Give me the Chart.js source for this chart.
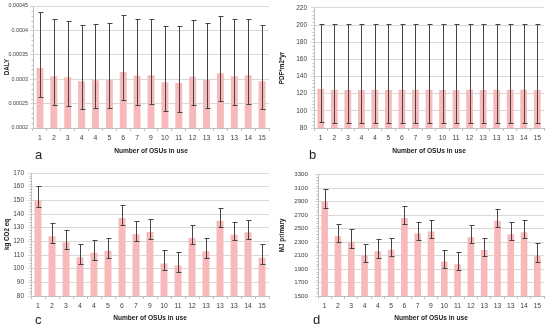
<!DOCTYPE html>
<html><head><meta charset="utf-8">
<script src="https://cdn.jsdelivr.net/npm/chart.js@4/dist/chart.umd.min.js"></script>
<style>
html,body{margin:0;padding:0;background:#fff;width:550px;height:328px;overflow:hidden;font-family:"Liberation Sans",Arial,sans-serif}
canvas{position:absolute}
.lab{position:absolute;font-size:13px;color:#222;font-family:"Liberation Sans",Arial,sans-serif}
</style></head>
<body>
<canvas id="ca" width="275" height="164" style="left:0;top:0"></canvas>
<canvas id="cb" width="275" height="164" style="left:275px;top:0"></canvas>
<canvas id="cc" width="275" height="164" style="left:0;top:164px"></canvas>
<canvas id="cd" width="275" height="164" style="left:275px;top:164px"></canvas>
<div class="lab" style="left:35px;top:147px">a</div>
<div class="lab" style="left:309px;top:147px">b</div>
<div class="lab" style="left:35px;top:312px">c</div>
<div class="lab" style="left:313px;top:312px">d</div>
<script>
const categories = ["1","2","3","4","4","5","6","7","9","10","11","12","13","13","13","14","15"];

const dalyMean = [0.000323,0.000306,0.000304,0.000296,0.000298,0.000299,0.000315,0.000307,0.000308,0.000294,0.000292,0.000305,0.000299,0.000312,0.000306,0.000308,0.000296];
const dalyHi   = [0.000438,0.000423,0.000419,0.000412,0.000414,0.000416,0.000431,0.000423,0.000423,0.000410,0.000408,0.000421,0.000415,0.000429,0.000423,0.000423,0.000412];
const dalyLo   = [0.000264,0.000247,0.000245,0.000238,0.000240,0.000241,0.000257,0.000248,0.000249,0.000234,0.000233,0.000247,0.000240,0.000255,0.000248,0.000249,0.000238];

const pdfMean = [125.5,124.6,124.4,124.3,124.5,124.4,124.7,124.7,124.6,124.3,124.3,124.6,124.3,124.6,124.6,124.7,124.3];
const pdfHi   = [201.5,201.2,201.0,201.0,201.0,201.0,201.3,201.3,201.3,201.0,201.0,201.3,201.0,201.3,201.3,201.3,201.0];
const pdfLo   = [86.5,85.6,85.5,85.4,85.5,85.5,86.0,85.7,85.6,85.4,85.4,85.7,85.4,86.0,85.7,85.7,85.4];

const co2Mean = [150.0,123.7,119.3,108.3,111.7,113.2,137.1,125.1,126.8,103.7,102.4,122.4,112.7,135.1,124.9,126.6,108.0];
const co2Hi   = [160.2,133.2,128.5,117.8,121.2,122.7,146.8,134.6,136.6,113.4,112.0,132.2,122.2,144.6,134.4,135.9,117.8];
const co2Lo   = [145.4,118.8,114.4,103.4,106.6,108.0,132.2,120.5,122.0,99.0,97.8,117.8,108.0,130.2,121.2,121.7,103.4];

const mjMean = [2905,2388,2305,2100,2163,2188,2656,2427,2456,2012,1973,2373,2183,2617,2417,2446,2100];
const mjHi   = [3085,2573,2490,2276,2339,2368,2837,2602,2632,2188,2159,2554,2359,2793,2598,2622,2280];
const mjLo   = [2812,2295,2217,2007,2066,2090,2563,2334,2368,1920,1885,2280,2090,2524,2324,2354,2002];

const yTicksA = {min:0.0002, max:0.00045, step:0.00005};
const yTicksB = {min:80, max:220, step:20};
const yTicksC = {min:80, max:170, step:10};
const yTicksD = {min:1500, max:3300, step:200};

const errorBars = {
  id:'errorBars',
  afterDatasetsDraw(chart, args, opts){
    const ctx = chart.ctx, ys = chart.scales.y;
    const meta = chart.getDatasetMeta(0);
    ctx.save();
    ctx.strokeStyle = '#444';
    ctx.lineWidth = 1;
    meta.data.forEach((bar,i)=>{
      const x = Math.round(bar.x)+0.5;
      const yh = Math.round(ys.getPixelForValue(opts.hi[i]))+0.5;
      const yl = Math.round(ys.getPixelForValue(opts.lo[i]))+0.5;
      ctx.beginPath();
      ctx.moveTo(x,yh); ctx.lineTo(x,yl);
      ctx.moveTo(x-2,yh); ctx.lineTo(x+3,yh);
      ctx.moveTo(x-2,yl); ctx.lineTo(x+3,yl);
      ctx.stroke();
    });
    ctx.restore();
  }
};
const minorTicks = {
  id:'minorTicks',
  afterDraw(chart){
    const ctx = chart.ctx, ys = chart.scales.y;
    const ticks = ys.ticks.map(t=>t.value);
    const x0 = Math.round(chart.chartArea.left)+0.5;
    ctx.save();
    ctx.strokeStyle = '#bfbfbf';
    ctx.lineWidth = 1;
    ctx.beginPath();
    for(let k=0;k<ticks.length-1;k++){
      const d = (ticks[k+1]-ticks[k])/5;
      for(let m=1;m<5;m++){
        const y = Math.round(ys.getPixelForValue(ticks[k]+d*m))+0.5;
        ctx.moveTo(x0-2,y); ctx.lineTo(x0,y);
      }
    }
    ctx.stroke();
    ctx.restore();
  }
};

function fmt(v){ return String(Number(v.toPrecision(6))); }

function makeChart(id, mean, hi, lo, yt, title, yWidth, topPad, botPad, xHeight, yFont, yPad){
  new Chart(document.getElementById(id), {
    type:'bar',
    data:{labels:categories, datasets:[{data:mean, backgroundColor:'#f7b9b9', borderWidth:0, barPercentage:0.5, categoryPercentage:1.0}]},
    options:{
      responsive:false, animation:false, devicePixelRatio:1,
      layout:{padding:{top:topPad, right:6, left:0, bottom:botPad}},
      plugins:{legend:{display:false}, tooltip:{enabled:false}, errorBars:{hi:hi, lo:lo}},
      scales:{
        x:{
          grid:{display:true, drawOnChartArea:false, offset:true, tickLength:3, color:'#bfbfbf'},
          border:{color:'#bfbfbf'},
          ticks:{font:{family:'Liberation Sans', size:6.8}, color:'#404040', padding:3, maxRotation:0, autoSkip:false},
          title:{display:true, text:'Number of OSUs in use', font:{family:'Liberation Sans', size:6.6, weight:'bold'}, color:'#222', padding:{top:2,bottom:1}},
          afterFit(s){ s.height = xHeight; }
        },
        y:{
          min:yt.min, max:yt.max,
          grid:{color:'#d9d9d9', tickLength:3, drawTicks:true},
          border:{color:'#bfbfbf'},
          ticks:{stepSize:yt.step, font:{family:'Liberation Sans', size:yFont}, color:'#404040', padding:yPad, callback:(v)=>fmt(v)},
          title:{display:true, text:title, font:{family:'Liberation Sans', size:6.3, weight:'bold'}, color:'#222', padding:{top:3,bottom:0}},
          afterFit(s){ s.width = yWidth; }
        }
      }
    },
    plugins:[errorBars, minorTicks]
  });
}

makeChart('ca', dalyMean, dalyHi, dalyLo, yTicksA, 'DALY', 33, 6, 8, 28, 5.4, 2);
makeChart('cb', pdfMean, pdfHi, pdfLo, yTicksB, 'PDF*m2*yr', 39, 6, 8, 28, 6.5, 4);
makeChart('cc', co2Mean, co2Hi, co2Lo, yTicksC, 'kg CO2 eq', 31, 9, 5, 27, 6.5, 4);
makeChart('cd', mjMean, mjHi, mjLo, yTicksD, 'MJ primary', 43, 9, 5, 27, 6.2, 7);
</script>
</body></html>
